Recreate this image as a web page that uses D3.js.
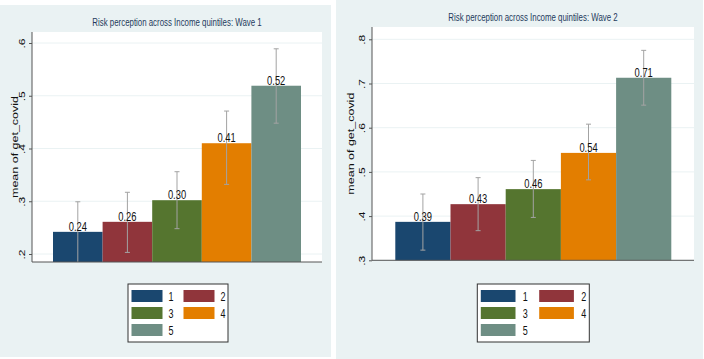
<!DOCTYPE html>
<html lang="en">
<head>
  <meta charset="UTF-8">
  <title>Risk perception across Income quintiles</title>
  <script src="https://d3js.org/d3.v7.min.js"></script>
  <style>
    html, body {
      margin: 0;
      padding: 0;
      background: #fff;
    }
    svg text {
      font-family: "Liberation Sans", Arial, sans-serif;
    }
  </style>
</head>
<body>
  <div id="container"></div>
  <script>
    const width = 704;
    const height = 359;

    // data
    const quintiles = ['1', '2', '3', '4', '5'];
    const wave1Means = [0.242, 0.261, 0.302, 0.410, 0.519];
    const wave1Lower = [0.180, 0.203, 0.248, 0.332, 0.448];
    const wave1Upper = [0.299, 0.317, 0.356, 0.471, 0.589];
    const wave2Means = [0.387, 0.427, 0.461, 0.543, 0.713];
    const wave2Lower = [0.323, 0.367, 0.397, 0.482, 0.651];
    const wave2Upper = [0.450, 0.487, 0.526, 0.608, 0.775];
    const wave1Ticks = [0.2, 0.3, 0.4, 0.5, 0.6];
    const wave2Ticks = [0.3, 0.4, 0.5, 0.6, 0.7, 0.8];
    const titles = ['Risk perception across Income quintiles: Wave 1', 'Risk perception across Income quintiles: Wave 2'];
    const yTitle = 'mean of get_covid';

    const colors = ['#1a476f', '#90353b', '#55752f', '#e37e00', '#6e8e84'];
    const sx = 0.75; // horizontal squeeze of the picture

    // layout for each panel
    const panels = [
      {
        box: [0, 5, 331, 352],
        plot: {left: 32, right: 322, top: 32, bottom: 262},
        yDomain: [0.2, 0.6], yRange: [254, 43],
        bars: [53, 301],
        tickX: -7, yTitleX: 18,
        legend: {x: 128, y: 284, w: 100, h: 58, sw: 31, col2: 52, textDx: 37},
        means: wave1Means, lower: wave1Lower, upper: wave1Upper, ticks: wave1Ticks, title: titles[0]
      },
      {
        box: [336, 0, 367, 359],
        plot: {left: 372, right: 694, top: 27, bottom: 260.3},
        yDomain: [0.3, 0.8], yRange: [260.3, 39.3],
        bars: [395.3, 671.3],
        tickX: -7, yTitleX: 353.5,
        legend: {x: 477.3, y: 284, w: 112, h: 58, sw: 34.7, col2: 58.4, textDx: 42},
        means: wave2Means, lower: wave2Lower, upper: wave2Upper, ticks: wave2Ticks, title: titles[1]
      }
    ];

    const svg = d3.select('#container').append('svg')
      .attr('width', width).attr('height', height);

    panels.forEach(p => {
      const g = svg.append('g');
      const pl = p.plot;

      // graph region
      g.append('rect')
        .attr('x', p.box[0]).attr('y', p.box[1])
        .attr('width', p.box[2]).attr('height', p.box[3])
        .attr('fill', '#eaf2f3');

      // plot region
      g.append('rect')
        .attr('x', pl.left).attr('y', pl.top)
        .attr('width', pl.right - pl.left).attr('height', pl.bottom - pl.top)
        .attr('fill', '#fff');

      const yScale = d3.scaleLinear().domain(p.yDomain).range(p.yRange);
      const xScale = d3.scaleBand().domain(quintiles).range(p.bars).padding(0);
      const yMin = yScale.invert(pl.bottom);

      // grid lines
      g.selectAll('.grid').data(p.ticks).enter().append('line')
        .attr('class', 'grid')
        .attr('x1', pl.left).attr('x2', pl.right)
        .attr('y1', d => yScale(d)).attr('y2', d => yScale(d))
        .attr('stroke', '#eaf2f3').attr('stroke-width', 1);

      // bars
      g.selectAll('.bar').data(quintiles).enter().append('rect')
        .attr('class', 'bar')
        .attr('x', d => xScale(d))
        .attr('y', (d, i) => yScale(p.means[i]))
        .attr('width', xScale.bandwidth())
        .attr('height', (d, i) => pl.bottom - yScale(p.means[i]))
        .attr('fill', (d, i) => colors[i]);

      // error bars
      const errColor = '#a3a3a3';
      quintiles.forEach((q, i) => {
        const cx = xScale(q) + xScale.bandwidth() / 2;
        const lo = Math.max(p.lower[i], yMin);
        g.append('line')
          .attr('x1', cx).attr('x2', cx)
          .attr('y1', yScale(p.upper[i])).attr('y2', yScale(lo))
          .attr('stroke', errColor).attr('stroke-width', 1);
        g.append('line')
          .attr('x1', cx - 2.5).attr('x2', cx + 2.5)
          .attr('y1', yScale(p.upper[i])).attr('y2', yScale(p.upper[i]))
          .attr('stroke', errColor).attr('stroke-width', 1);
        if (p.lower[i] >= yMin) {
          g.append('line')
            .attr('x1', cx - 2.5).attr('x2', cx + 2.5)
            .attr('y1', yScale(p.lower[i])).attr('y2', yScale(p.lower[i]))
            .attr('stroke', errColor).attr('stroke-width', 1);
        }
      });

      // value labels
      g.selectAll('.val').data(quintiles).enter().append('text')
        .attr('class', 'val')
        .attr('transform', (d, i) => `translate(${xScale(d) + xScale.bandwidth() / 2},${yScale(p.means[i]) - 1}) scale(${sx},1)`)
        .attr('text-anchor', 'middle')
        .attr('font-size', '12.5px')
        .attr('fill', '#111')
        .text((d, i) => p.means[i].toFixed(2));

      // y axis
      const yAxis = d3.axisLeft(yScale)
        .tickValues(p.ticks)
        .tickSize(3)
        .tickSizeOuter(0)
        .tickFormat(d => d3.format('.1f')(d).replace(/^0/, ''));
      const ax = g.append('g')
        .attr('transform', `translate(${pl.left},0)`)
        .call(yAxis);
      ax.select('.domain').remove();
      ax.selectAll('.tick line').attr('stroke', '#555');
      ax.selectAll('.tick text')
        .attr('x', null).attr('dy', null)
        .attr('text-anchor', 'middle')
        .attr('font-size', '12px')
        .attr('fill', '#111')
        .attr('transform', `translate(${p.tickX},0) scale(${sx},1) rotate(-90)`);

      // axis lines
      g.append('line')
        .attr('x1', pl.left).attr('x2', pl.left)
        .attr('y1', pl.top).attr('y2', pl.bottom)
        .attr('stroke', '#555').attr('stroke-width', 1);
      g.append('line')
        .attr('x1', pl.left).attr('x2', pl.right)
        .attr('y1', pl.bottom).attr('y2', pl.bottom)
        .attr('stroke', '#555').attr('stroke-width', 1);

      // y title
      g.append('text')
        .attr('transform', `translate(${p.yTitleX},${(pl.top + pl.bottom) / 2}) scale(${sx},1) rotate(-90)`)
        .attr('text-anchor', 'middle')
        .attr('font-size', '12.5px')
        .attr('fill', '#111')
        .text(yTitle);

      // title
      g.append('text')
        .attr('transform', `translate(${(pl.left + pl.right) / 2},${pl.top - 6}) scale(${sx},1)`)
        .attr('text-anchor', 'middle')
        .attr('font-size', '10.5px')
        .attr('fill', '#1e3a5c')
        .text(p.title);

      // legend
      const lg = p.legend;
      g.append('rect')
        .attr('x', lg.x).attr('y', lg.y)
        .attr('width', lg.w).attr('height', lg.h)
        .attr('fill', '#fff')
        .attr('stroke', '#333').attr('stroke-width', 1);
      quintiles.forEach((q, i) => {
        const col = i % 2, row = Math.floor(i / 2);
        const x0 = lg.x + 3.5 + col * lg.col2;
        const y0 = lg.y + 6 + row * 17;
        g.append('rect')
          .attr('x', x0).attr('y', y0)
          .attr('width', lg.sw).attr('height', 12)
          .attr('fill', colors[i]);
        g.append('text')
          .attr('transform', `translate(${x0 + lg.textDx},${y0 + 10.5}) scale(${sx},1)`)
          .attr('font-size', '12px')
          .attr('fill', '#111')
          .text(q);
      });
    });
  </script>
</body>
</html>
